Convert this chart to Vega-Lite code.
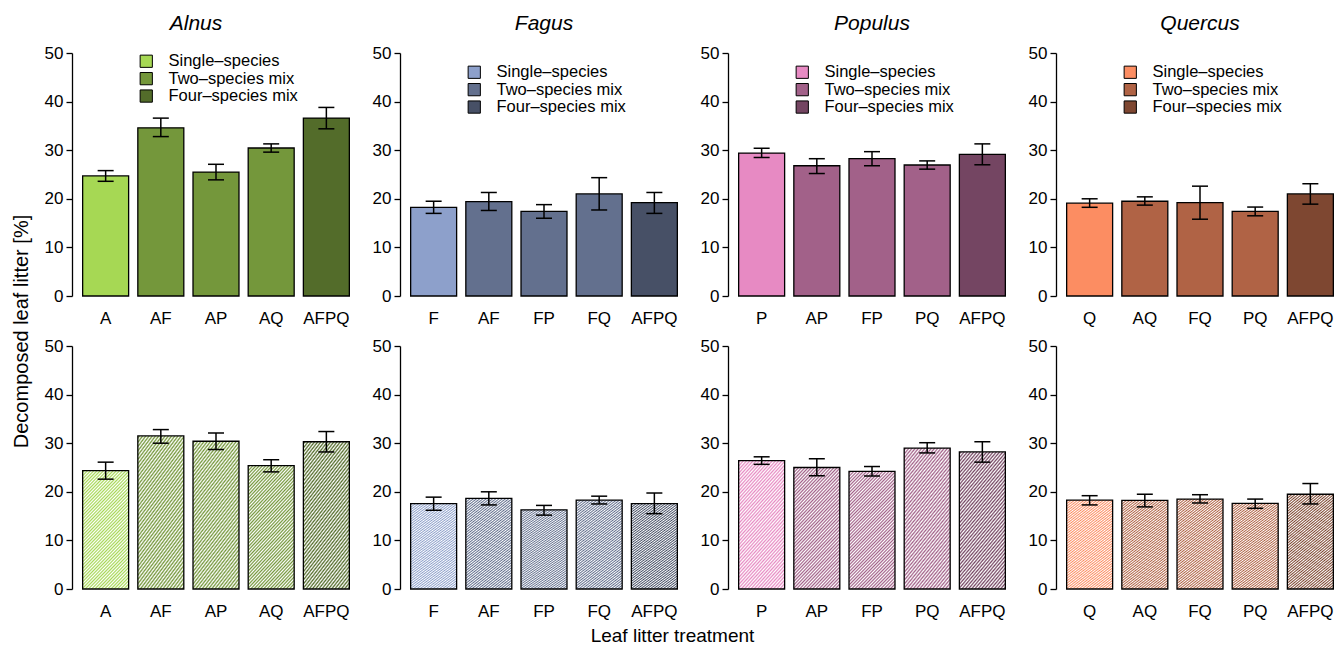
{
"$schema":"https://vega.github.io/schema/vega-lite/v6.json",
"background":"white",
"padding":{"left":10,"top":13,"right":0,"bottom":0},
"config":{
 "font":"Liberation Sans",
 "view":{"stroke":null},
 "axis":{"labelFont":"Liberation Sans","labelColor":"black","labelFontSize":17,"domainColor":"black","tickColor":"black","grid":false,"titleFont":"Liberation Sans","titleColor":"black","titleFontWeight":"normal","titleFontSize":20},
 "axisX":{"domain":false,"ticks":false,"tickSize":0,"labelPadding":14,"labelAngle":0},
 "axisY":{"domainWidth":1.3,"tickWidth":1.3,"tickSize":6,"labelPadding":3},
 "legend":{"orient":"none","legendX":66,"symbolType":"square","symbolSize":150,"symbolStrokeColor":"black","symbolStrokeWidth":1,"labelFont":"Liberation Sans","labelFontSize":16.5,"labelColor":"black","labelOffset":14,"rowPadding":0.4,"padding":0},
 "title":{"font":"Liberation Sans","fontSize":21,"fontStyle":"italic","fontWeight":"normal","color":"black","frame":"group","anchor":"middle","baseline":"alphabetic","offset":10},
 "style":{"hatch":{"color":{"gradient":"linear","x1":0,"y1":0,"x2":0.483,"y2":1.207,"stops":[
{"offset":0,"color":"#fff"},{"offset":0.01,"color":"rgba(255,255,255,0)"},{"offset":0.02,"color":"#fff"},{"offset":0.03,"color":"rgba(255,255,255,0)"},{"offset":0.04,"color":"#fff"},{"offset":0.05,"color":"rgba(255,255,255,0)"},{"offset":0.06,"color":"#fff"},{"offset":0.07,"color":"rgba(255,255,255,0)"},{"offset":0.08,"color":"#fff"},{"offset":0.09,"color":"rgba(255,255,255,0)"},
{"offset":0.1,"color":"#fff"},{"offset":0.11,"color":"rgba(255,255,255,0)"},{"offset":0.12,"color":"#fff"},{"offset":0.13,"color":"rgba(255,255,255,0)"},{"offset":0.14,"color":"#fff"},{"offset":0.15,"color":"rgba(255,255,255,0)"},{"offset":0.16,"color":"#fff"},{"offset":0.17,"color":"rgba(255,255,255,0)"},{"offset":0.18,"color":"#fff"},{"offset":0.19,"color":"rgba(255,255,255,0)"},
{"offset":0.2,"color":"#fff"},{"offset":0.21,"color":"rgba(255,255,255,0)"},{"offset":0.22,"color":"#fff"},{"offset":0.23,"color":"rgba(255,255,255,0)"},{"offset":0.24,"color":"#fff"},{"offset":0.25,"color":"rgba(255,255,255,0)"},{"offset":0.26,"color":"#fff"},{"offset":0.27,"color":"rgba(255,255,255,0)"},{"offset":0.28,"color":"#fff"},{"offset":0.29,"color":"rgba(255,255,255,0)"},
{"offset":0.3,"color":"#fff"},{"offset":0.31,"color":"rgba(255,255,255,0)"},{"offset":0.32,"color":"#fff"},{"offset":0.33,"color":"rgba(255,255,255,0)"},{"offset":0.34,"color":"#fff"},{"offset":0.35,"color":"rgba(255,255,255,0)"},{"offset":0.36,"color":"#fff"},{"offset":0.37,"color":"rgba(255,255,255,0)"},{"offset":0.38,"color":"#fff"},{"offset":0.39,"color":"rgba(255,255,255,0)"},
{"offset":0.4,"color":"#fff"},{"offset":0.41,"color":"rgba(255,255,255,0)"},{"offset":0.42,"color":"#fff"},{"offset":0.43,"color":"rgba(255,255,255,0)"},{"offset":0.44,"color":"#fff"},{"offset":0.45,"color":"rgba(255,255,255,0)"},{"offset":0.46,"color":"#fff"},{"offset":0.47,"color":"rgba(255,255,255,0)"},{"offset":0.48,"color":"#fff"},{"offset":0.49,"color":"rgba(255,255,255,0)"},
{"offset":0.5,"color":"#fff"},{"offset":0.51,"color":"rgba(255,255,255,0)"},{"offset":0.52,"color":"#fff"},{"offset":0.53,"color":"rgba(255,255,255,0)"},{"offset":0.54,"color":"#fff"},{"offset":0.55,"color":"rgba(255,255,255,0)"},{"offset":0.56,"color":"#fff"},{"offset":0.57,"color":"rgba(255,255,255,0)"},{"offset":0.58,"color":"#fff"},{"offset":0.59,"color":"rgba(255,255,255,0)"},
{"offset":0.6,"color":"#fff"},{"offset":0.61,"color":"rgba(255,255,255,0)"},{"offset":0.62,"color":"#fff"},{"offset":0.63,"color":"rgba(255,255,255,0)"},{"offset":0.64,"color":"#fff"},{"offset":0.65,"color":"rgba(255,255,255,0)"},{"offset":0.66,"color":"#fff"},{"offset":0.67,"color":"rgba(255,255,255,0)"},{"offset":0.68,"color":"#fff"},{"offset":0.69,"color":"rgba(255,255,255,0)"},
{"offset":0.7,"color":"#fff"},{"offset":0.71,"color":"rgba(255,255,255,0)"},{"offset":0.72,"color":"#fff"},{"offset":0.73,"color":"rgba(255,255,255,0)"},{"offset":0.74,"color":"#fff"},{"offset":0.75,"color":"rgba(255,255,255,0)"},{"offset":0.76,"color":"#fff"},{"offset":0.77,"color":"rgba(255,255,255,0)"},{"offset":0.78,"color":"#fff"},{"offset":0.79,"color":"rgba(255,255,255,0)"},
{"offset":0.8,"color":"#fff"},{"offset":0.81,"color":"rgba(255,255,255,0)"},{"offset":0.82,"color":"#fff"},{"offset":0.83,"color":"rgba(255,255,255,0)"},{"offset":0.84,"color":"#fff"},{"offset":0.85,"color":"rgba(255,255,255,0)"},{"offset":0.86,"color":"#fff"},{"offset":0.87,"color":"rgba(255,255,255,0)"},{"offset":0.88,"color":"#fff"},{"offset":0.89,"color":"rgba(255,255,255,0)"},
{"offset":0.9,"color":"#fff"},{"offset":0.91,"color":"rgba(255,255,255,0)"},{"offset":0.92,"color":"#fff"},{"offset":0.93,"color":"rgba(255,255,255,0)"},{"offset":0.94,"color":"#fff"},{"offset":0.95,"color":"rgba(255,255,255,0)"},{"offset":0.96,"color":"#fff"},{"offset":0.97,"color":"rgba(255,255,255,0)"},{"offset":0.98,"color":"#fff"},{"offset":0.99,"color":"rgba(255,255,255,0)"},
{"offset":1,"color":"#fff"}]}}}
},
"data":{"values":[
{"panel":"a","treatment":"A","type":"Single–species","mean":24.7,"lo":23.6,"hi":25.8},
{"panel":"a","treatment":"AF","type":"Two–species mix","mean":34.6,"lo":32.8,"hi":36.6},
{"panel":"a","treatment":"AP","type":"Two–species mix","mean":25.5,"lo":23.9,"hi":27.1},
{"panel":"a","treatment":"AQ","type":"Two–species mix","mean":30.45,"lo":29.6,"hi":31.3},
{"panel":"a","treatment":"AFPQ","type":"Four–species mix","mean":36.6,"lo":34.4,"hi":38.8},
{"panel":"b","treatment":"F","type":"Single–species","mean":18.25,"lo":17.0,"hi":19.5},
{"panel":"b","treatment":"AF","type":"Two–species mix","mean":19.4,"lo":17.6,"hi":21.3},
{"panel":"b","treatment":"FP","type":"Two–species mix","mean":17.4,"lo":16.0,"hi":18.8},
{"panel":"b","treatment":"FQ","type":"Two–species mix","mean":21.0,"lo":17.7,"hi":24.35},
{"panel":"b","treatment":"AFPQ","type":"Four–species mix","mean":19.2,"lo":17.0,"hi":21.3},
{"panel":"c","treatment":"P","type":"Single–species","mean":29.4,"lo":28.5,"hi":30.4},
{"panel":"c","treatment":"AP","type":"Two–species mix","mean":26.8,"lo":25.2,"hi":28.25},
{"panel":"c","treatment":"FP","type":"Two–species mix","mean":28.25,"lo":26.8,"hi":29.7},
{"panel":"c","treatment":"PQ","type":"Two–species mix","mean":26.95,"lo":26.1,"hi":27.8},
{"panel":"c","treatment":"AFPQ","type":"Four–species mix","mean":29.15,"lo":27.0,"hi":31.3},
{"panel":"d","treatment":"Q","type":"Single–species","mean":19.1,"lo":18.25,"hi":20.0},
{"panel":"d","treatment":"AQ","type":"Two–species mix","mean":19.5,"lo":18.7,"hi":20.4},
{"panel":"d","treatment":"FQ","type":"Two–species mix","mean":19.2,"lo":15.8,"hi":22.6},
{"panel":"d","treatment":"PQ","type":"Two–species mix","mean":17.4,"lo":16.5,"hi":18.3},
{"panel":"d","treatment":"AFPQ","type":"Four–species mix","mean":21.0,"lo":18.9,"hi":23.1},
{"panel":"e","treatment":"A","type":"Single–species","mean":24.35,"lo":22.6,"hi":26.1},
{"panel":"e","treatment":"AF","type":"Two–species mix","mean":31.5,"lo":30.0,"hi":32.8},
{"panel":"e","treatment":"AP","type":"Two–species mix","mean":30.4,"lo":28.7,"hi":32.1},
{"panel":"e","treatment":"AQ","type":"Two–species mix","mean":25.4,"lo":24.1,"hi":26.6},
{"panel":"e","treatment":"AFPQ","type":"Four–species mix","mean":30.3,"lo":28.2,"hi":32.4},
{"panel":"f","treatment":"F","type":"Single–species","mean":17.55,"lo":16.2,"hi":18.9},
{"panel":"f","treatment":"AF","type":"Two–species mix","mean":18.65,"lo":17.3,"hi":20.0},
{"panel":"f","treatment":"FP","type":"Two–species mix","mean":16.3,"lo":15.2,"hi":17.2},
{"panel":"f","treatment":"FQ","type":"Two–species mix","mean":18.3,"lo":17.5,"hi":19.1},
{"panel":"f","treatment":"AFPQ","type":"Four–species mix","mean":17.55,"lo":15.5,"hi":19.75},
{"panel":"g","treatment":"P","type":"Single–species","mean":26.4,"lo":25.65,"hi":27.2},
{"panel":"g","treatment":"AP","type":"Two–species mix","mean":25.0,"lo":23.3,"hi":26.8},
{"panel":"g","treatment":"FP","type":"Two–species mix","mean":24.2,"lo":23.25,"hi":25.2},
{"panel":"g","treatment":"PQ","type":"Two–species mix","mean":29.0,"lo":28.0,"hi":30.1},
{"panel":"g","treatment":"AFPQ","type":"Four–species mix","mean":28.2,"lo":26.1,"hi":30.3},
{"panel":"h","treatment":"Q","type":"Single–species","mean":18.3,"lo":17.3,"hi":19.2},
{"panel":"h","treatment":"AQ","type":"Two–species mix","mean":18.25,"lo":16.9,"hi":19.5},
{"panel":"h","treatment":"FQ","type":"Two–species mix","mean":18.5,"lo":17.7,"hi":19.4},
{"panel":"h","treatment":"PQ","type":"Two–species mix","mean":17.6,"lo":16.6,"hi":18.5},
{"panel":"h","treatment":"AFPQ","type":"Four–species mix","mean":19.5,"lo":17.5,"hi":21.7}
]},
"title":{"text":"Leaf litter treatment","orient":"bottom","fontStyle":"normal","fontSize":19,"frame":"bounds","anchor":"middle","baseline":"top","offset":8,"dx":-5},
"columns":4,
"spacing":{"row":50,"column":40},
"bounds":"flush",
"resolve":{"scale":{"color":"independent","x":"independent","y":"independent"},"legend":{"color":"independent"}},
"concat":[
{"width":288,"height":243,"title":{"text":"Alnus","dx":-20},
 "transform":[{"filter":"datum.panel==='a'"}],
 "encoding":{"x":{"field":"treatment","type":"nominal","title":null,"scale":{"domain":["A","AF","AP","AQ","AFPQ"],"paddingInner":0.1667,"paddingOuter":0.193}},"y":{"field":"mean","type":"quantitative","scale":{"domain":[0,50],"nice":false},"axis":{"title":null}}},
 "layer":[
  {"mark":{"type":"bar","stroke":"black","strokeWidth":1.3},"encoding":{"color":{"field":"type","type":"nominal","scale":{"domain":["Single–species","Two–species mix","Four–species mix"],"range":["#a6d854","#74973b","#536c2a"]},"legend":{"title":null,"orient":"none","legendX":66,"legendY":0}}}},
  {"mark":{"type":"rule","color":"black","strokeWidth":1.5},"encoding":{"y":{"field":"lo","type":"quantitative"},"y2":{"field":"hi"}}},
  {"mark":{"type":"tick","color":"black","opacity":1,"thickness":1.5,"size":16},"encoding":{"y":{"field":"lo","type":"quantitative"}}},
  {"mark":{"type":"tick","color":"black","opacity":1,"thickness":1.5,"size":16},"encoding":{"y":{"field":"hi","type":"quantitative"}}},
  {"data":{"values":[{"label":"(a)"}]},"mark":{"type":"text","fontWeight":"bold","fontSize":19,"align":"left","baseline":"top","dx":1.5,"dy":3,"color":"black"},"encoding":{"x":{"datum":"A","bandPosition":0},"y":{"datum":50},"text":{"field":"label"}}}
 ]},
{"width":288,"height":243,"title":{"text":"Fagus"},
 "transform":[{"filter":"datum.panel==='b'"}],
 "encoding":{"x":{"field":"treatment","type":"nominal","title":null,"scale":{"domain":["F","AF","FP","FQ","AFPQ"],"paddingInner":0.1667,"paddingOuter":0.193}},"y":{"field":"mean","type":"quantitative","scale":{"domain":[0,50],"nice":false},"axis":{"title":null}}},
 "layer":[
  {"mark":{"type":"bar","stroke":"black","strokeWidth":1.3},"encoding":{"color":{"field":"type","type":"nominal","scale":{"domain":["Single–species","Two–species mix","Four–species mix"],"range":["#8da0cb","#63708e","#475066"]},"legend":{"title":null,"orient":"none","legendX":66,"legendY":11}}}},
  {"mark":{"type":"rule","color":"black","strokeWidth":1.5},"encoding":{"y":{"field":"lo","type":"quantitative"},"y2":{"field":"hi"}}},
  {"mark":{"type":"tick","color":"black","opacity":1,"thickness":1.5,"size":16},"encoding":{"y":{"field":"lo","type":"quantitative"}}},
  {"mark":{"type":"tick","color":"black","opacity":1,"thickness":1.5,"size":16},"encoding":{"y":{"field":"hi","type":"quantitative"}}},
  {"data":{"values":[{"label":"(b)"}]},"mark":{"type":"text","fontWeight":"bold","fontSize":19,"align":"left","baseline":"top","dx":1.5,"dy":3,"color":"black"},"encoding":{"x":{"datum":"F","bandPosition":0},"y":{"datum":50},"text":{"field":"label"}}}
 ]},
{"width":288,"height":243,"title":{"text":"Populus"},
 "transform":[{"filter":"datum.panel==='c'"}],
 "encoding":{"x":{"field":"treatment","type":"nominal","title":null,"scale":{"domain":["P","AP","FP","PQ","AFPQ"],"paddingInner":0.1667,"paddingOuter":0.193}},"y":{"field":"mean","type":"quantitative","scale":{"domain":[0,50],"nice":false},"axis":{"title":null}}},
 "layer":[
  {"mark":{"type":"bar","stroke":"black","strokeWidth":1.3},"encoding":{"color":{"field":"type","type":"nominal","scale":{"domain":["Single–species","Two–species mix","Four–species mix"],"range":["#e78ac3","#a26189","#744562"]},"legend":{"title":null,"orient":"none","legendX":66,"legendY":11}}}},
  {"mark":{"type":"rule","color":"black","strokeWidth":1.5},"encoding":{"y":{"field":"lo","type":"quantitative"},"y2":{"field":"hi"}}},
  {"mark":{"type":"tick","color":"black","opacity":1,"thickness":1.5,"size":16},"encoding":{"y":{"field":"lo","type":"quantitative"}}},
  {"mark":{"type":"tick","color":"black","opacity":1,"thickness":1.5,"size":16},"encoding":{"y":{"field":"hi","type":"quantitative"}}},
  {"data":{"values":[{"label":"(c)"}]},"mark":{"type":"text","fontWeight":"bold","fontSize":19,"align":"left","baseline":"top","dx":1.5,"dy":3,"color":"black"},"encoding":{"x":{"datum":"P","bandPosition":0},"y":{"datum":50},"text":{"field":"label"}}}
 ]},
{"width":288,"height":243,"title":{"text":"Quercus"},
 "transform":[{"filter":"datum.panel==='d'"}],
 "encoding":{"x":{"field":"treatment","type":"nominal","title":null,"scale":{"domain":["Q","AQ","FQ","PQ","AFPQ"],"paddingInner":0.1667,"paddingOuter":0.193}},"y":{"field":"mean","type":"quantitative","scale":{"domain":[0,50],"nice":false},"axis":{"title":null}}},
 "layer":[
  {"mark":{"type":"bar","stroke":"black","strokeWidth":1.3},"encoding":{"color":{"field":"type","type":"nominal","scale":{"domain":["Single–species","Two–species mix","Four–species mix"],"range":["#fc8d62","#b06345","#7e4731"]},"legend":{"title":null,"orient":"none","legendX":66,"legendY":11}}}},
  {"mark":{"type":"rule","color":"black","strokeWidth":1.5},"encoding":{"y":{"field":"lo","type":"quantitative"},"y2":{"field":"hi"}}},
  {"mark":{"type":"tick","color":"black","opacity":1,"thickness":1.5,"size":16},"encoding":{"y":{"field":"lo","type":"quantitative"}}},
  {"mark":{"type":"tick","color":"black","opacity":1,"thickness":1.5,"size":16},"encoding":{"y":{"field":"hi","type":"quantitative"}}},
  {"data":{"values":[{"label":"(d)"}]},"mark":{"type":"text","fontWeight":"bold","fontSize":19,"align":"left","baseline":"top","dx":1.5,"dy":3,"color":"black"},"encoding":{"x":{"datum":"Q","bandPosition":0},"y":{"datum":50},"text":{"field":"label"}}}
 ]},
{"width":288,"height":243,
 "transform":[{"filter":"datum.panel==='e'"}],
 "encoding":{"x":{"field":"treatment","type":"nominal","title":null,"scale":{"domain":["A","AF","AP","AQ","AFPQ"],"paddingInner":0.1667,"paddingOuter":0.193}},"y":{"field":"mean","type":"quantitative","scale":{"domain":[0,50],"nice":false},"axis":{"title":"Decomposed leaf litter [%]","titleX":-51,"titleY":-15,"titleAngle":270,"titleAlign":"center","titleBaseline":"middle"}}},
 "layer":[
  {"mark":{"type":"bar"},"encoding":{"color":{"field":"type","type":"nominal","scale":{"domain":["Single–species","Two–species mix","Four–species mix"],"range":["#a6d854","#74973b","#536c2a"]},"legend":null}}},
  {"mark":{"type":"bar","style":"hatch","stroke":"black","strokeWidth":1.3}},
  {"mark":{"type":"rule","color":"black","strokeWidth":1.5},"encoding":{"y":{"field":"lo","type":"quantitative"},"y2":{"field":"hi"}}},
  {"mark":{"type":"tick","color":"black","opacity":1,"thickness":1.5,"size":16},"encoding":{"y":{"field":"lo","type":"quantitative"}}},
  {"mark":{"type":"tick","color":"black","opacity":1,"thickness":1.5,"size":16},"encoding":{"y":{"field":"hi","type":"quantitative"}}},
  {"data":{"values":[{"label":"(e)"}]},"mark":{"type":"text","fontWeight":"bold","fontSize":19,"align":"left","baseline":"top","dx":1.5,"dy":3,"color":"black"},"encoding":{"x":{"datum":"A","bandPosition":0},"y":{"datum":50},"text":{"field":"label"}}}
 ]},
{"width":288,"height":243,
 "transform":[{"filter":"datum.panel==='f'"}],
 "encoding":{"x":{"field":"treatment","type":"nominal","title":null,"scale":{"domain":["F","AF","FP","FQ","AFPQ"],"paddingInner":0.1667,"paddingOuter":0.193}},"y":{"field":"mean","type":"quantitative","scale":{"domain":[0,50],"nice":false},"axis":{"title":null}}},
 "layer":[
  {"mark":{"type":"bar"},"encoding":{"color":{"field":"type","type":"nominal","scale":{"domain":["Single–species","Two–species mix","Four–species mix"],"range":["#8da0cb","#63708e","#475066"]},"legend":null}}},
  {"mark":{"type":"bar","style":"hatch","stroke":"black","strokeWidth":1.3}},
  {"mark":{"type":"rule","color":"black","strokeWidth":1.5},"encoding":{"y":{"field":"lo","type":"quantitative"},"y2":{"field":"hi"}}},
  {"mark":{"type":"tick","color":"black","opacity":1,"thickness":1.5,"size":16},"encoding":{"y":{"field":"lo","type":"quantitative"}}},
  {"mark":{"type":"tick","color":"black","opacity":1,"thickness":1.5,"size":16},"encoding":{"y":{"field":"hi","type":"quantitative"}}},
  {"data":{"values":[{"label":"(f)"}]},"mark":{"type":"text","fontWeight":"bold","fontSize":19,"align":"left","baseline":"top","dx":1.5,"dy":3,"color":"black"},"encoding":{"x":{"datum":"F","bandPosition":0},"y":{"datum":50},"text":{"field":"label"}}}
 ]},
{"width":288,"height":243,
 "transform":[{"filter":"datum.panel==='g'"}],
 "encoding":{"x":{"field":"treatment","type":"nominal","title":null,"scale":{"domain":["P","AP","FP","PQ","AFPQ"],"paddingInner":0.1667,"paddingOuter":0.193}},"y":{"field":"mean","type":"quantitative","scale":{"domain":[0,50],"nice":false},"axis":{"title":null}}},
 "layer":[
  {"mark":{"type":"bar"},"encoding":{"color":{"field":"type","type":"nominal","scale":{"domain":["Single–species","Two–species mix","Four–species mix"],"range":["#e78ac3","#a26189","#744562"]},"legend":null}}},
  {"mark":{"type":"bar","style":"hatch","stroke":"black","strokeWidth":1.3}},
  {"mark":{"type":"rule","color":"black","strokeWidth":1.5},"encoding":{"y":{"field":"lo","type":"quantitative"},"y2":{"field":"hi"}}},
  {"mark":{"type":"tick","color":"black","opacity":1,"thickness":1.5,"size":16},"encoding":{"y":{"field":"lo","type":"quantitative"}}},
  {"mark":{"type":"tick","color":"black","opacity":1,"thickness":1.5,"size":16},"encoding":{"y":{"field":"hi","type":"quantitative"}}},
  {"data":{"values":[{"label":"(g)"}]},"mark":{"type":"text","fontWeight":"bold","fontSize":19,"align":"left","baseline":"top","dx":1.5,"dy":3,"color":"black"},"encoding":{"x":{"datum":"P","bandPosition":0},"y":{"datum":50},"text":{"field":"label"}}}
 ]},
{"width":288,"height":243,
 "transform":[{"filter":"datum.panel==='h'"}],
 "encoding":{"x":{"field":"treatment","type":"nominal","title":null,"scale":{"domain":["Q","AQ","FQ","PQ","AFPQ"],"paddingInner":0.1667,"paddingOuter":0.193}},"y":{"field":"mean","type":"quantitative","scale":{"domain":[0,50],"nice":false},"axis":{"title":null}}},
 "layer":[
  {"mark":{"type":"bar"},"encoding":{"color":{"field":"type","type":"nominal","scale":{"domain":["Single–species","Two–species mix","Four–species mix"],"range":["#fc8d62","#b06345","#7e4731"]},"legend":null}}},
  {"mark":{"type":"bar","style":"hatch","stroke":"black","strokeWidth":1.3}},
  {"mark":{"type":"rule","color":"black","strokeWidth":1.5},"encoding":{"y":{"field":"lo","type":"quantitative"},"y2":{"field":"hi"}}},
  {"mark":{"type":"tick","color":"black","opacity":1,"thickness":1.5,"size":16},"encoding":{"y":{"field":"lo","type":"quantitative"}}},
  {"mark":{"type":"tick","color":"black","opacity":1,"thickness":1.5,"size":16},"encoding":{"y":{"field":"hi","type":"quantitative"}}},
  {"data":{"values":[{"label":"(h)"}]},"mark":{"type":"text","fontWeight":"bold","fontSize":19,"align":"left","baseline":"top","dx":1.5,"dy":3,"color":"black"},"encoding":{"x":{"datum":"Q","bandPosition":0},"y":{"datum":50},"text":{"field":"label"}}}
 ]}
]
}
